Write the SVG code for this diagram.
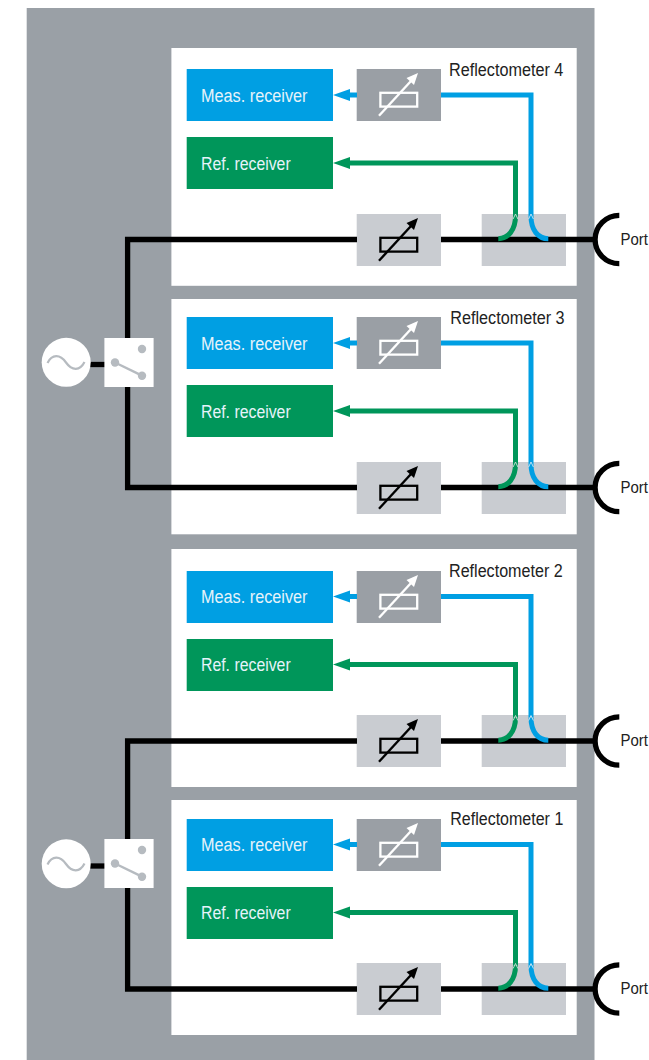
<svg xmlns="http://www.w3.org/2000/svg" xmlns:xlink="http://www.w3.org/1999/xlink" width="649" height="1060" viewBox="0 0 649 1060">
<style>
.t{font-family:"Liberation Sans",Arial,sans-serif;font-size:18px}
.p{font-family:"Liberation Sans",Arial,sans-serif;font-size:16.5px;fill:#222}
.w{fill:#e6f3fa}
.k{fill:#222}
.blk{fill:none;stroke:#000;stroke-width:5.3}
.blu{fill:none;stroke:#009fe3;stroke-width:5}
.grn{fill:none;stroke:#00965a;stroke-width:5}
.nb{fill:none;stroke:#cfe6f4;stroke-width:.9}
.ng{fill:none;stroke:#cfe0d8;stroke-width:.9}
.ab{fill:#009fe3}.ag{fill:#00965a}
.meas{fill:#009fe3}.ref{fill:#00965a}.dk{fill:#9a9fa5}.lt{fill:#c9ccd1}
</style>
<defs>
<g id="att-w"><rect x="380.4" y="92.8" width="36.8" height="13.8" fill="none" stroke="#fff" stroke-width="2.3"/><path d="M379 115.7L411 81" fill="none" stroke="#fff" stroke-width="2.4"/><path d="M418 73L414 85L406.5 78Z" fill="#fff"/></g>
<g id="att-k"><rect x="380.4" y="92.8" width="36.8" height="13.8" fill="none" stroke="#000" stroke-width="2.3"/><path d="M379 115.7L411 81" fill="none" stroke="#000" stroke-width="2.4"/><path d="M418 73L414 85L406.5 78Z" fill="#000"/></g>
<g id="sw"><rect x="104.4" y="338" width="49.2" height="49" fill="#fff"/><circle cx="115" cy="362.5" r="4.2" fill="#b6bbc0"/><circle cx="142" cy="375.7" r="4.2" fill="#b6bbc0"/><circle cx="142" cy="349" r="4.2" fill="#b6bbc0"/><path d="M115 362.5L142 375.7" stroke="#b6bbc0" stroke-width="2.4" fill="none"/></g>
<g id="gen"><circle cx="66.2" cy="362.3" r="24.5" fill="#fff"/><path d="M47.5 363C52 354 60 354 66 362.5S80 371 84.5 362" fill="none" stroke="#b6bbc0" stroke-width="2.2"/></g>
<g id="wires">
<path class="blk" d="M441 239.5H597"/>
<path class="blk" d="M619.3 215.3A24.2 24.2 0 0 0 619.3 263.7"/>
<path class="blu" d="M441 95H531V216"/>
<path class="grn" d="M348 163H515.5V216"/>
<path class="blu" d="M531 216C531 230 538 238.7 548.3 238.7" stroke-width="5.5"/>
<path class="grn" d="M515.5 216C515.5 230 508 238.7 498.3 238.7" stroke-width="5.5"/>
<path class="nb" d="M528.6 219L531 214L533.4 219"/>
<path class="ng" d="M513.1 219L515.5 214L517.9 219"/>
<path class="ab" d="M333 95L350 89V92.5H357V97.5H350V101Z"/>
<path class="ag" d="M333 163L350 157V169Z"/>
</g>
</defs>
<rect id="chassis" x="26.7" y="8" width="567.8" height="1052" fill="#9aa0a6"/>
<g id="panel-4"><rect x="171.4" y="48" width="405.3" height="237.8" fill="#fff"/></g>
<g id="panel-3"><rect x="171.4" y="299" width="405.3" height="235.3" fill="#fff"/></g>
<g id="panel-2"><rect x="171.4" y="549" width="405.3" height="238" fill="#fff"/></g>
<g id="panel-1"><rect x="171.4" y="800" width="405.3" height="235" fill="#fff"/></g>

<g id="module-4">
<g id="meas-4"><rect class="meas" x="186.7" y="69" width="146.3" height="52"/></g>
<g id="ref-4"><rect class="ref" x="186.7" y="137" width="146.3" height="52"/></g>
<g id="attm-4"><rect class="dk" x="356.7" y="69" width="84.3" height="52"/><use xlink:href="#att-w" href="#att-w"/></g>
<g id="attr-4"><rect class="lt" x="356.7" y="214" width="84.3" height="52"/><use xlink:href="#att-k" href="#att-k" y="145"/></g>
<g id="coupler-4"><rect class="lt" x="481.7" y="214" width="84.3" height="52"/></g>
</g>
<g id="module-3" transform="translate(0 248)">
<g id="meas-3"><rect class="meas" x="186.7" y="69" width="146.3" height="52"/></g>
<g id="ref-3"><rect class="ref" x="186.7" y="137" width="146.3" height="52"/></g>
<g id="attm-3"><rect class="dk" x="356.7" y="69" width="84.3" height="52"/><use xlink:href="#att-w" href="#att-w"/></g>
<g id="attr-3"><rect class="lt" x="356.7" y="214" width="84.3" height="52"/><use xlink:href="#att-k" href="#att-k" y="145"/></g>
<g id="coupler-3"><rect class="lt" x="481.7" y="214" width="84.3" height="52"/></g>
</g>
<g id="module-2" transform="translate(0 502)">
<g id="meas-2"><rect class="meas" x="186.7" y="69" width="146.3" height="52"/></g>
<g id="ref-2"><rect class="ref" x="186.7" y="137" width="146.3" height="52"/></g>
<g id="attm-2"><rect class="dk" x="356.7" y="69" width="84.3" height="52"/><use xlink:href="#att-w" href="#att-w"/></g>
<g id="attr-2"><rect class="lt" x="356.7" y="213" width="84.3" height="52"/><use xlink:href="#att-k" href="#att-k" y="144"/></g>
<g id="coupler-2"><rect class="lt" x="481.7" y="213" width="84.3" height="52"/></g>
</g>
<g id="module-1" transform="translate(0 750)">
<g id="meas-1"><rect class="meas" x="186.7" y="69" width="146.3" height="52"/></g>
<g id="ref-1"><rect class="ref" x="186.7" y="137" width="146.3" height="52"/></g>
<g id="attm-1"><rect class="dk" x="356.7" y="69" width="84.3" height="52"/><use xlink:href="#att-w" href="#att-w"/></g>
<g id="attr-1"><rect class="lt" x="356.7" y="213" width="84.3" height="52"/><use xlink:href="#att-k" href="#att-k" y="144"/></g>
<g id="coupler-1"><rect class="lt" x="481.7" y="213" width="84.3" height="52"/></g>
</g>

<g id="connectors">
<path class="blk" d="M357 239.5H127.6V487.5H357"/>
<path class="blk" d="M357 741H127.6V989H357"/>
<path class="blk" d="M88 364.5H106"/>
<path class="blk" d="M88 866H106"/>
<use xlink:href="#wires" href="#wires"/>
<use xlink:href="#wires" href="#wires" y="248"/>
<use xlink:href="#wires" href="#wires" y="501.5"/>
<use xlink:href="#wires" href="#wires" y="749.5"/>
</g>

<g id="source-a"><use xlink:href="#gen" href="#gen"/></g>
<g id="switch-a"><use xlink:href="#sw" href="#sw"/></g>
<g id="source-b"><use xlink:href="#gen" href="#gen" y="501.5"/></g>
<g id="switch-b"><use xlink:href="#sw" href="#sw" y="501"/></g>

<g id="labels">
<text class="t k" x="449" y="76" textLength="114.3" lengthAdjust="spacingAndGlyphs">Reflectometer 4</text>
<text class="t k" x="450.3" y="324" textLength="114.3" lengthAdjust="spacingAndGlyphs">Reflectometer 3</text>
<text class="t k" x="449" y="576.7" textLength="113.7" lengthAdjust="spacingAndGlyphs">Reflectometer 2</text>
<text class="t k" x="450.3" y="824.7" textLength="113" lengthAdjust="spacingAndGlyphs">Reflectometer 1</text>
<text class="t w" x="201" y="101.5" textLength="106.5" lengthAdjust="spacingAndGlyphs">Meas. receiver</text>
<text class="t w" x="201" y="349.5" textLength="106.5" lengthAdjust="spacingAndGlyphs">Meas. receiver</text>
<text class="t w" x="201" y="602.5" textLength="106.5" lengthAdjust="spacingAndGlyphs">Meas. receiver</text>
<text class="t w" x="201" y="850.5" textLength="106.5" lengthAdjust="spacingAndGlyphs">Meas. receiver</text>
<text class="t w" x="201" y="169.5" textLength="89.7" lengthAdjust="spacingAndGlyphs">Ref. receiver</text>
<text class="t w" x="201" y="417.5" textLength="89.7" lengthAdjust="spacingAndGlyphs">Ref. receiver</text>
<text class="t w" x="201" y="670.5" textLength="89.7" lengthAdjust="spacingAndGlyphs">Ref. receiver</text>
<text class="t w" x="201" y="918.5" textLength="89.7" lengthAdjust="spacingAndGlyphs">Ref. receiver</text>
<text class="p" x="620.5" y="244.5" textLength="27.5" lengthAdjust="spacingAndGlyphs">Port</text>
<text class="p" x="620.5" y="492.5" textLength="27.5" lengthAdjust="spacingAndGlyphs">Port</text>
<text class="p" x="620.5" y="745.5" textLength="27.5" lengthAdjust="spacingAndGlyphs">Port</text>
<text class="p" x="620.5" y="993.5" textLength="27.5" lengthAdjust="spacingAndGlyphs">Port</text>
</g>
</svg>
